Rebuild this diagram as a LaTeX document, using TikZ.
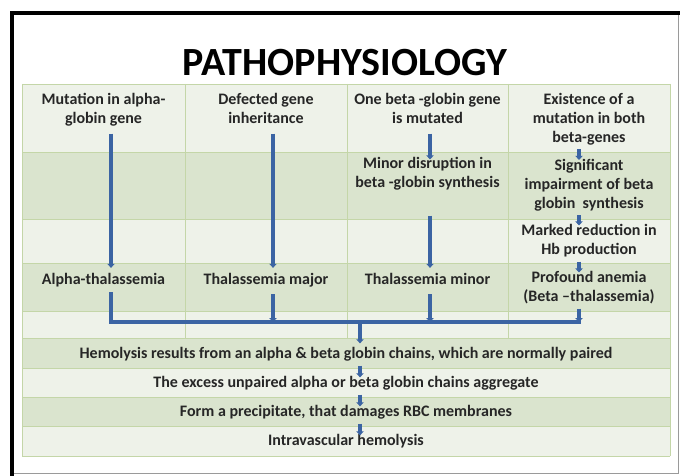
\documentclass[tikz,border=0pt]{standalone}
\usepackage{fontspec}
\setmainfont{Carlito}
\usetikzlibrary{arrows.meta,positioning}
\definecolor{rowlight}{HTML}{EEF2E9}
\definecolor{rowgreen}{HTML}{DAE4CE}
\definecolor{gridgreen}{HTML}{C4D6A8}
\definecolor{flowblue}{HTML}{3B64A3}
\definecolor{bodytext}{HTML}{262626}
\definecolor{framegray}{HTML}{9A9A9A}

\begin{document}
\begin{tikzpicture}[x=1pt, y=-1pt,
    cell/.style={font=\fontsize{16}{19}\selectfont\bfseries, text=bodytext, align=center, inner sep=1pt,
                 execute at begin node=\strut, execute at end node=\strut},
    flow/.style={draw=flowblue, line width=3.5pt, -{Triangle[width=7.5pt,length=4pt]}},
    gridline/.style={draw=gridgreen, line width=0.8pt}]
    \useasboundingbox (0,0) rectangle (680,476);

    % Slide frame
    \fill[white] (0,0) rectangle (680,476);
    \draw[framegray, line width=0.8pt] (14,473) -- (678,473) -- (678,15);
    \draw[black, line width=4pt] (12,476) -- (12,13.5) -- (680,13.5);

    % Title
    \node[font=\fontsize{40}{42}\selectfont\bfseries, text=black, anchor=base] (title) at (345,76) {PATHOPHYSIOLOGY};

    % Table rows (alternating shades)
    \foreach \top/\bot/\shade in {84/152/rowlight, 152/219/rowgreen, 219/263/rowlight, 263/311/rowgreen,
                                  311/338/rowlight, 338/368/rowgreen, 368/397/rowlight, 397/426/rowgreen, 426/456/rowlight} {
        \fill[\shade] (22,\top) rectangle (670,\bot);
    }
    \foreach \y in {84,152,219,263,311,338,368,397,426,456} {
        \draw[gridline] (22,\y) -- (670,\y);
    }
    \foreach \x in {185,347,508} {
        \draw[gridline] (\x,84) -- (\x,338);
    }
    \draw[gridline] (22,84) -- (22,456);
    \draw[gridline] (670,84) -- (670,456);

    % Column guides for the arrows
    \coordinate (x1) at (111,0);
    \coordinate (x2) at (273,0);
    \coordinate (x3) at (430,0);
    \coordinate (x4) at (579,0);
    \coordinate (bx) at (360,0);
    \coordinate (bus) at (0,322);

    % Causes
    \node[cell] (mutalpha) at (103.5,111.5) {Mutation in alpha-\\globin gene};
    \node[cell] (defgene) at (266,111.5) {Defected gene\\inheritance};
    \node[cell] (onebeta) at (427.5,111.5) {One beta -globin gene\\is mutated};
    \node[cell] (bothbeta) at (589,120.5) {Existence of a\\mutation in both\\beta-genes};

    % Intermediate steps
    \node[cell] (minordis) at (427.5,175.5) {Minor disruption in\\beta -globin synthesis};
    \node[cell] (impair) at (589,186.5) {Significant\\impairment of beta\\globin\ \ synthesis};
    \node[cell] (reduct) at (589,242.5) {Marked reduction in\\Hb production};

    % Outcomes
    \node[cell] (alphathal) at (103.5,280.5) {Alpha-thalassemia};
    \node[cell] (thalmajor) at (266,280.5) {Thalassemia major};
    \node[cell] (thalminor) at (427.5,280.5) {Thalassemia minor};
    \node[cell] (anemia) at (589,289.5) {Profound anemia\\(Beta –thalassemia)};

    % Common pathway
    \node[cell] (hemores) at (346,355) {Hemolysis results from an alpha \& beta globin chains, which are normally paired};
    \node[cell] (excess) at (346,384) {The excess unpaired alpha or beta globin chains aggregate};
    \node[cell] (precip) at (346,413) {Form a precipitate, that damages RBC membranes};
    \node[cell] (intrav) at (346,442) {Intravascular hemolysis};

    % Arrows down each column
    \draw[flow] ([yshift=-3pt]mutalpha.south -| x1) -- ([yshift=2pt]alphathal.north -| x1);
    \draw[flow] ([yshift=-3pt]defgene.south -| x2) -- ([yshift=2pt]thalmajor.north -| x2);
    \draw[flow] ([yshift=-3pt]onebeta.south -| x3) -- ([yshift=-3pt]minordis.north -| x3);
    \draw[flow] ([yshift=-21pt]minordis.south -| x3) -- ([yshift=2pt]thalminor.north -| x3);
    \draw[flow] ([yshift=0pt]bothbeta.south -| x4) -- ([yshift=-2pt]impair.north -| x4);
    \draw[flow] ([yshift=0pt]impair.south -| x4) -- ([yshift=-2pt]reduct.north -| x4);
    \draw[flow] ([yshift=0pt]reduct.south -| x4) -- ([yshift=-2pt]anemia.north -| x4);

    % Collecting bar
    \draw[draw=flowblue, line width=3.5pt, line cap=rect] ([yshift=-3pt]alphathal.south -| x1) -- (bus -| x1) -- (bus -| x4);
    \draw[flow] ([yshift=-3pt]thalmajor.south -| x2) -- (bus -| x2);
    \draw[flow] ([yshift=-3pt]thalminor.south -| x3) -- (bus -| x3);
    \draw[flow] (anemia.south -| x4) -- (bus -| x4);

    % Arrows down the common pathway
    \draw[flow] (bus -| bx) -- ([yshift=1pt]hemores.north -| bx);
    \draw[flow] (hemores.south -| bx) -- ([yshift=-4pt]excess.north -| bx);
    \draw[flow] (excess.south -| bx) -- ([yshift=-4pt]precip.north -| bx);
    \draw[flow] (precip.south -| bx) -- ([yshift=-4pt]intrav.north -| bx);
\end{tikzpicture}
\end{document}
